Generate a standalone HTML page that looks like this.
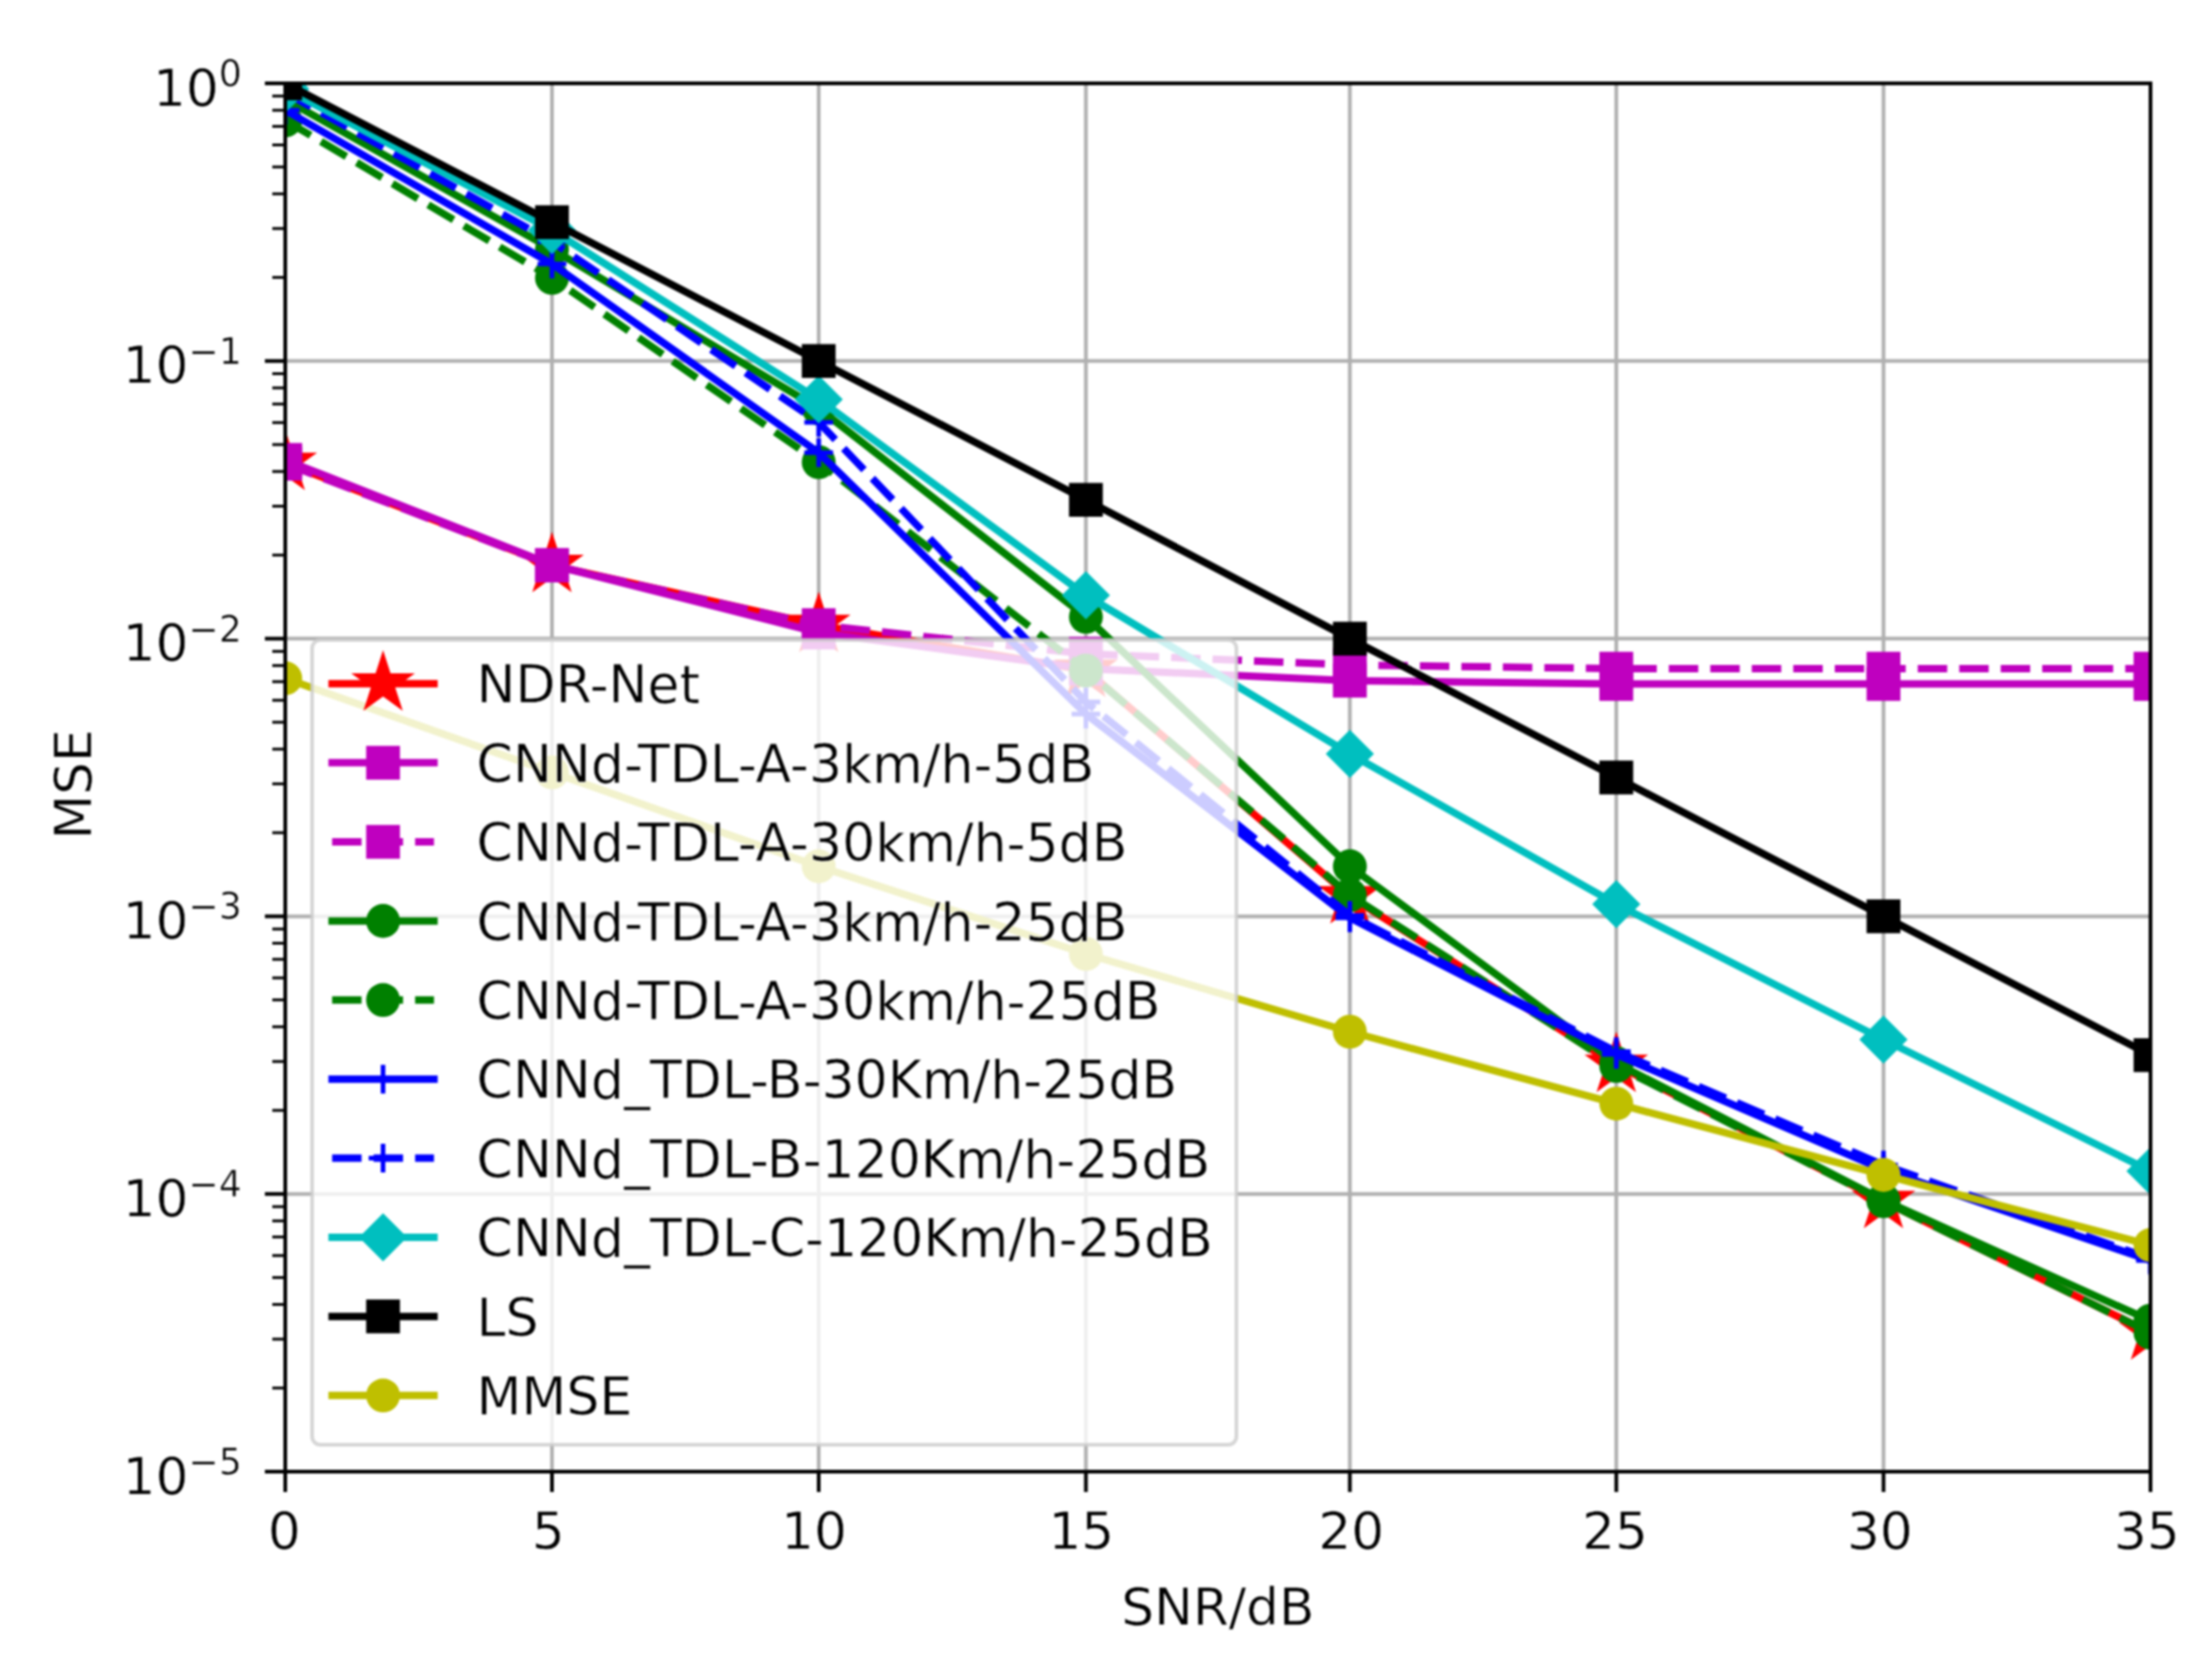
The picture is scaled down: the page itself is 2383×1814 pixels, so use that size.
<!DOCTYPE html>
<html lang="en"><head><meta charset="utf-8"><title>MSE vs SNR</title>
<style>html,body{margin:0;padding:0;background:#fff;}svg{display:block;filter:blur(1px);}text{font-family:"DejaVu Sans", "Liberation Sans", sans-serif;fill:#000;stroke:#fff;stroke-width:0.6px;paint-order:fill stroke;font-kerning:normal;}</style>
</head><body>
<svg width="2383" height="1814" viewBox="0 0 2383 1814">
<defs><clipPath id="ax"><rect x="308" y="90" width="2014" height="1499"/></clipPath></defs>
<rect width="2383" height="1814" fill="#ffffff"/>
<g stroke="#b0b0b0" stroke-width="4" fill="none">
<path d="M596 90V1589"/>
<path d="M884 90V1589"/>
<path d="M1172.5 90V1589"/>
<path d="M1457.5 90V1589"/>
<path d="M1745.2 90V1589"/>
<path d="M2033.7 90V1589"/>
<path d="M308 389.8H2322"/>
<path d="M308 689.6H2322"/>
<path d="M308 989.4H2322"/>
<path d="M308 1289.2H2322"/>
</g>
<g clip-path="url(#ax)">
<path d="M308 500L596 610.3L884 675L1172.5 723.5L1457.5 968L1745.2 1150L2033.7 1297L2322 1439" fill="none" stroke="#ff0000" stroke-width="8" stroke-linejoin="round" stroke-linecap="square"/>
<polygon points="308,468 315.18,490.11 338.43,490.11 319.62,503.78 326.81,525.89 308,512.22 289.19,525.89 296.38,503.78 277.57,490.11 300.82,490.11" fill="#ff0000" stroke="#ff0000" stroke-width="2.6" stroke-linejoin="miter"/>
<polygon points="596,578.3 603.18,600.41 626.43,600.41 607.62,614.08 614.81,636.19 596,622.52 577.19,636.19 584.38,614.08 565.57,600.41 588.82,600.41" fill="#ff0000" stroke="#ff0000" stroke-width="2.6" stroke-linejoin="miter"/>
<polygon points="884,643 891.18,665.11 914.43,665.11 895.62,678.78 902.81,700.89 884,687.22 865.19,700.89 872.38,678.78 853.57,665.11 876.82,665.11" fill="#ff0000" stroke="#ff0000" stroke-width="2.6" stroke-linejoin="miter"/>
<polygon points="1172.5,691.5 1179.68,713.61 1202.93,713.61 1184.12,727.28 1191.31,749.39 1172.5,735.72 1153.69,749.39 1160.88,727.28 1142.07,713.61 1165.32,713.61" fill="#ff0000" stroke="#ff0000" stroke-width="2.6" stroke-linejoin="miter"/>
<polygon points="1457.5,936 1464.68,958.11 1487.93,958.11 1469.12,971.78 1476.31,993.89 1457.5,980.22 1438.69,993.89 1445.88,971.78 1427.07,958.11 1450.32,958.11" fill="#ff0000" stroke="#ff0000" stroke-width="2.6" stroke-linejoin="miter"/>
<polygon points="1745.2,1118 1752.38,1140.11 1775.63,1140.11 1756.82,1153.78 1764.01,1175.89 1745.2,1162.22 1726.39,1175.89 1733.58,1153.78 1714.77,1140.11 1738.02,1140.11" fill="#ff0000" stroke="#ff0000" stroke-width="2.6" stroke-linejoin="miter"/>
<polygon points="2033.7,1265 2040.88,1287.11 2064.13,1287.11 2045.32,1300.78 2052.51,1322.89 2033.7,1309.22 2014.89,1322.89 2022.08,1300.78 2003.27,1287.11 2026.52,1287.11" fill="#ff0000" stroke="#ff0000" stroke-width="2.6" stroke-linejoin="miter"/>
<polygon points="2322,1407 2329.18,1429.11 2352.43,1429.11 2333.62,1442.78 2340.81,1464.89 2322,1451.22 2303.19,1464.89 2310.38,1442.78 2291.57,1429.11 2314.82,1429.11" fill="#ff0000" stroke="#ff0000" stroke-width="2.6" stroke-linejoin="miter"/>
<path d="M308 496.6L596 610L884 683L1172.5 722L1457.5 735L1745.2 738.5L2033.7 738.5L2322 738.5" fill="none" stroke="#bf00bf" stroke-width="8" stroke-linejoin="round" stroke-linecap="square"/>
<rect x="289.75" y="478.35" width="36.5" height="36.5" fill="#bf00bf"/>
<rect x="577.75" y="591.75" width="36.5" height="36.5" fill="#bf00bf"/>
<rect x="865.75" y="664.75" width="36.5" height="36.5" fill="#bf00bf"/>
<rect x="1154.25" y="703.75" width="36.5" height="36.5" fill="#bf00bf"/>
<rect x="1439.25" y="716.75" width="36.5" height="36.5" fill="#bf00bf"/>
<rect x="1726.95" y="720.25" width="36.5" height="36.5" fill="#bf00bf"/>
<rect x="2015.45" y="720.25" width="36.5" height="36.5" fill="#bf00bf"/>
<rect x="2303.75" y="720.25" width="36.5" height="36.5" fill="#bf00bf"/>
<path d="M308 500.7L596 610.6L884 675L1172.5 706L1457.5 718L1745.2 722L2033.7 722L2322 722" fill="none" stroke="#bf00bf" stroke-width="8" stroke-linejoin="round" stroke-dasharray="31.8 13" stroke-linecap="butt"/>
<rect x="289.75" y="482.45" width="36.5" height="36.5" fill="#bf00bf"/>
<rect x="577.75" y="592.35" width="36.5" height="36.5" fill="#bf00bf"/>
<rect x="865.75" y="656.75" width="36.5" height="36.5" fill="#bf00bf"/>
<rect x="1154.25" y="687.75" width="36.5" height="36.5" fill="#bf00bf"/>
<rect x="1439.25" y="699.75" width="36.5" height="36.5" fill="#bf00bf"/>
<rect x="1726.95" y="703.75" width="36.5" height="36.5" fill="#bf00bf"/>
<rect x="2015.45" y="703.75" width="36.5" height="36.5" fill="#bf00bf"/>
<rect x="2303.75" y="703.75" width="36.5" height="36.5" fill="#bf00bf"/>
<path d="M308 107.5L596 269L884 441L1172.5 666L1457.5 935.4L1745.2 1148L2033.7 1296L2322 1426" fill="none" stroke="#008000" stroke-width="8" stroke-linejoin="round" stroke-linecap="square"/>
<circle cx="308" cy="107.5" r="18.3" fill="#008000"/>
<circle cx="596" cy="269" r="18.3" fill="#008000"/>
<circle cx="884" cy="441" r="18.3" fill="#008000"/>
<circle cx="1172.5" cy="666" r="18.3" fill="#008000"/>
<circle cx="1457.5" cy="935.4" r="18.3" fill="#008000"/>
<circle cx="1745.2" cy="1148" r="18.3" fill="#008000"/>
<circle cx="2033.7" cy="1296" r="18.3" fill="#008000"/>
<circle cx="2322" cy="1426" r="18.3" fill="#008000"/>
<path d="M308 130L596 300L884 499L1172.5 724L1457.5 966.5L1745.2 1151L2033.7 1297L2322 1439" fill="none" stroke="#008000" stroke-width="8" stroke-linejoin="round" stroke-dasharray="31.8 13" stroke-linecap="butt"/>
<circle cx="308" cy="130" r="18.3" fill="#008000"/>
<circle cx="596" cy="300" r="18.3" fill="#008000"/>
<circle cx="884" cy="499" r="18.3" fill="#008000"/>
<circle cx="1172.5" cy="724" r="18.3" fill="#008000"/>
<circle cx="1457.5" cy="966.5" r="18.3" fill="#008000"/>
<circle cx="1745.2" cy="1151" r="18.3" fill="#008000"/>
<circle cx="2033.7" cy="1297" r="18.3" fill="#008000"/>
<circle cx="2322" cy="1439" r="18.3" fill="#008000"/>
<path d="M308 119L596 285L884 488.8L1172.5 771L1457.5 991L1745.2 1138.5L2033.7 1263L2322 1361" fill="none" stroke="#0000ff" stroke-width="8" stroke-linejoin="round" stroke-linecap="square"/>
<path d="M292.5 119H323.5M308 103.5V134.5" stroke="#0000ff" stroke-width="5" fill="none"/>
<path d="M580.5 285H611.5M596 269.5V300.5" stroke="#0000ff" stroke-width="5" fill="none"/>
<path d="M868.5 488.8H899.5M884 473.3V504.3" stroke="#0000ff" stroke-width="5" fill="none"/>
<path d="M1157 771H1188M1172.5 755.5V786.5" stroke="#0000ff" stroke-width="5" fill="none"/>
<path d="M1442 991H1473M1457.5 975.5V1006.5" stroke="#0000ff" stroke-width="5" fill="none"/>
<path d="M1729.7 1138.5H1760.7M1745.2 1123V1154" stroke="#0000ff" stroke-width="5" fill="none"/>
<path d="M2018.2 1263H2049.2M2033.7 1247.5V1278.5" stroke="#0000ff" stroke-width="5" fill="none"/>
<path d="M2306.5 1361H2337.5M2322 1345.5V1376.5" stroke="#0000ff" stroke-width="5" fill="none"/>
<path d="M308 100L596 261L884 456L1172.5 758L1457.5 988.5L1745.2 1135.5L2033.7 1258L2322 1359" fill="none" stroke="#0000ff" stroke-width="8" stroke-linejoin="round" stroke-dasharray="31.8 13" stroke-linecap="butt"/>
<path d="M292.5 100H323.5M308 84.5V115.5" stroke="#0000ff" stroke-width="5" fill="none"/>
<path d="M580.5 261H611.5M596 245.5V276.5" stroke="#0000ff" stroke-width="5" fill="none"/>
<path d="M868.5 456H899.5M884 440.5V471.5" stroke="#0000ff" stroke-width="5" fill="none"/>
<path d="M1157 758H1188M1172.5 742.5V773.5" stroke="#0000ff" stroke-width="5" fill="none"/>
<path d="M1442 988.5H1473M1457.5 973V1004" stroke="#0000ff" stroke-width="5" fill="none"/>
<path d="M1729.7 1135.5H1760.7M1745.2 1120V1151" stroke="#0000ff" stroke-width="5" fill="none"/>
<path d="M2018.2 1258H2049.2M2033.7 1242.5V1273.5" stroke="#0000ff" stroke-width="5" fill="none"/>
<path d="M2306.5 1359H2337.5M2322 1343.5V1374.5" stroke="#0000ff" stroke-width="5" fill="none"/>
<path d="M308 96L596 248.5L884 431.3L1172.5 642.7L1457.5 813.9L1745.2 976.3L2033.7 1122.5L2322 1264.4" fill="none" stroke="#00bfbf" stroke-width="8" stroke-linejoin="round" stroke-linecap="square"/>
<path d="M308 70L334 96L308 122L282 96Z" fill="#00bfbf"/>
<path d="M596 222.5L622 248.5L596 274.5L570 248.5Z" fill="#00bfbf"/>
<path d="M884 405.3L910 431.3L884 457.3L858 431.3Z" fill="#00bfbf"/>
<path d="M1172.5 616.7L1198.5 642.7L1172.5 668.7L1146.5 642.7Z" fill="#00bfbf"/>
<path d="M1457.5 787.9L1483.5 813.9L1457.5 839.9L1431.5 813.9Z" fill="#00bfbf"/>
<path d="M1745.2 950.3L1771.2 976.3L1745.2 1002.3L1719.2 976.3Z" fill="#00bfbf"/>
<path d="M2033.7 1096.5L2059.7 1122.5L2033.7 1148.5L2007.7 1122.5Z" fill="#00bfbf"/>
<path d="M2322 1238.4L2348 1264.4L2322 1290.4L2296 1264.4Z" fill="#00bfbf"/>
<path d="M308 90L596 239.9L884 389.8L1172.5 539.7L1457.5 689.6L1745.2 839.5L2033.7 989.4L2322 1139.3" fill="none" stroke="#000000" stroke-width="8" stroke-linejoin="round" stroke-linecap="square"/>
<rect x="289.75" y="71.75" width="36.5" height="36.5" fill="#000000"/>
<rect x="577.75" y="221.65" width="36.5" height="36.5" fill="#000000"/>
<rect x="865.75" y="371.55" width="36.5" height="36.5" fill="#000000"/>
<rect x="1154.25" y="521.45" width="36.5" height="36.5" fill="#000000"/>
<rect x="1439.25" y="671.35" width="36.5" height="36.5" fill="#000000"/>
<rect x="1726.95" y="821.25" width="36.5" height="36.5" fill="#000000"/>
<rect x="2015.45" y="971.15" width="36.5" height="36.5" fill="#000000"/>
<rect x="2303.75" y="1121.05" width="36.5" height="36.5" fill="#000000"/>
<path d="M308 732.4L596 834L884 935.4L1172.5 1030L1457.5 1114L1745.2 1191.7L2033.7 1268.6L2322 1344.4" fill="none" stroke="#bfbf00" stroke-width="8" stroke-linejoin="round" stroke-linecap="square"/>
<circle cx="308" cy="732.4" r="18.3" fill="#bfbf00"/>
<circle cx="596" cy="834" r="18.3" fill="#bfbf00"/>
<circle cx="884" cy="935.4" r="18.3" fill="#bfbf00"/>
<circle cx="1172.5" cy="1030" r="18.3" fill="#bfbf00"/>
<circle cx="1457.5" cy="1114" r="18.3" fill="#bfbf00"/>
<circle cx="1745.2" cy="1191.7" r="18.3" fill="#bfbf00"/>
<circle cx="2033.7" cy="1268.6" r="18.3" fill="#bfbf00"/>
<circle cx="2322" cy="1344.4" r="18.3" fill="#bfbf00"/>
</g>
<rect x="308" y="90" width="2014" height="1499" fill="none" stroke="#000" stroke-width="4"/>
<g stroke="#000" stroke-width="4" fill="none">
<path d="M308 1591V1611"/>
<path d="M596 1591V1611"/>
<path d="M884 1591V1611"/>
<path d="M1172.5 1591V1611"/>
<path d="M1457.5 1591V1611"/>
<path d="M1745.2 1591V1611"/>
<path d="M2033.7 1591V1611"/>
<path d="M2322 1591V1611"/>
<path d="M306 90H286"/>
<path d="M306 389.8H286"/>
<path d="M306 689.6H286"/>
<path d="M306 989.4H286"/>
<path d="M306 1289.2H286"/>
<path d="M306 1589H286"/>
</g>
<g stroke="#000" stroke-width="3" fill="none">
<path d="M306 299.55H294"/>
<path d="M306 246.76H294"/>
<path d="M306 209.3H294"/>
<path d="M306 180.25H294"/>
<path d="M306 156.51H294"/>
<path d="M306 136.44H294"/>
<path d="M306 119.05H294"/>
<path d="M306 103.72H294"/>
<path d="M306 599.35H294"/>
<path d="M306 546.56H294"/>
<path d="M306 509.1H294"/>
<path d="M306 480.05H294"/>
<path d="M306 456.31H294"/>
<path d="M306 436.24H294"/>
<path d="M306 418.85H294"/>
<path d="M306 403.52H294"/>
<path d="M306 899.15H294"/>
<path d="M306 846.36H294"/>
<path d="M306 808.9H294"/>
<path d="M306 779.85H294"/>
<path d="M306 756.11H294"/>
<path d="M306 736.04H294"/>
<path d="M306 718.65H294"/>
<path d="M306 703.32H294"/>
<path d="M306 1198.95H294"/>
<path d="M306 1146.16H294"/>
<path d="M306 1108.7H294"/>
<path d="M306 1079.65H294"/>
<path d="M306 1055.91H294"/>
<path d="M306 1035.84H294"/>
<path d="M306 1018.45H294"/>
<path d="M306 1003.12H294"/>
<path d="M306 1498.75H294"/>
<path d="M306 1445.96H294"/>
<path d="M306 1408.5H294"/>
<path d="M306 1379.45H294"/>
<path d="M306 1355.71H294"/>
<path d="M306 1335.64H294"/>
<path d="M306 1318.25H294"/>
<path d="M306 1302.92H294"/>
</g>
<g font-size="55.8" text-anchor="middle">
<text x="307" y="1671.5">0</text>
<text x="592" y="1671.5">5</text>
<text x="879" y="1671.5">10</text>
<text x="1167.5" y="1671.5">15</text>
<text x="1459" y="1671.5">20</text>
<text x="1743.7" y="1671.5">25</text>
<text x="2029.7" y="1671.5">30</text>
<text x="2318" y="1671.5">35</text>
<text x="1315" y="1754">SNR/dB</text>
<text transform="translate(97.5 847) rotate(-90)">MSE</text>
</g>
<g font-size="55.8" text-anchor="end">
<text x="261" y="113.5">10<tspan font-size="39.06" dy="-20.5">0</tspan></text>
<text x="261" y="413.3">10<tspan font-size="39.06" dy="-20.5">−1</tspan></text>
<text x="261" y="713.1">10<tspan font-size="39.06" dy="-20.5">−2</tspan></text>
<text x="261" y="1012.9">10<tspan font-size="39.06" dy="-20.5">−3</tspan></text>
<text x="261" y="1312.7">10<tspan font-size="39.06" dy="-20.5">−4</tspan></text>
<text x="261" y="1612.5">10<tspan font-size="39.06" dy="-20.5">−5</tspan></text>
</g>
<rect x="337" y="691" width="998" height="869" rx="9" ry="9" fill="#ffffff" fill-opacity="0.8" stroke="#cccccc" stroke-opacity="0.8" stroke-width="4"/>
<g font-size="56.25">
<path d="M358.6 738.2L468.6 738.2" fill="none" stroke="#ff0000" stroke-width="8" stroke-linejoin="round" stroke-linecap="square"/>
<polygon points="413.6,706.2 420.78,728.31 444.03,728.31 425.22,741.98 432.41,764.09 413.6,750.42 394.79,764.09 401.98,741.98 383.17,728.31 406.42,728.31" fill="#ff0000" stroke="#ff0000" stroke-width="2.6" stroke-linejoin="miter"/>
<text x="514.5" y="759.4">NDR-Net</text>
<path d="M358.6 823.6L468.6 823.6" fill="none" stroke="#bf00bf" stroke-width="8" stroke-linejoin="round" stroke-linecap="square"/>
<rect x="395.35" y="805.35" width="36.5" height="36.5" fill="#bf00bf"/>
<text x="514.5" y="844.8">CNNd-TDL-A-3km/h-5dB</text>
<path d="M358.6 909L468.6 909" fill="none" stroke="#bf00bf" stroke-width="8" stroke-linejoin="round" stroke-dasharray="31.8 13" stroke-linecap="butt"/>
<rect x="395.35" y="890.75" width="36.5" height="36.5" fill="#bf00bf"/>
<text x="514.5" y="930.2">CNNd-TDL-A-30km/h-5dB</text>
<path d="M358.6 994.4L468.6 994.4" fill="none" stroke="#008000" stroke-width="8" stroke-linejoin="round" stroke-linecap="square"/>
<circle cx="413.6" cy="994.4" r="18.3" fill="#008000"/>
<text x="514.5" y="1015.6">CNNd-TDL-A-3km/h-25dB</text>
<path d="M358.6 1079.8L468.6 1079.8" fill="none" stroke="#008000" stroke-width="8" stroke-linejoin="round" stroke-dasharray="31.8 13" stroke-linecap="butt"/>
<circle cx="413.6" cy="1079.8" r="18.3" fill="#008000"/>
<text x="514.5" y="1101">CNNd-TDL-A-30km/h-25dB</text>
<path d="M358.6 1165.2L468.6 1165.2" fill="none" stroke="#0000ff" stroke-width="8" stroke-linejoin="round" stroke-linecap="square"/>
<path d="M398.1 1165.2H429.1M413.6 1149.7V1180.7" stroke="#0000ff" stroke-width="5" fill="none"/>
<text x="514.5" y="1186.4">CNNd_TDL-B-30Km/h-25dB</text>
<path d="M358.6 1250.6L468.6 1250.6" fill="none" stroke="#0000ff" stroke-width="8" stroke-linejoin="round" stroke-dasharray="31.8 13" stroke-linecap="butt"/>
<path d="M398.1 1250.6H429.1M413.6 1235.1V1266.1" stroke="#0000ff" stroke-width="5" fill="none"/>
<text x="514.5" y="1271.8">CNNd_TDL-B-120Km/h-25dB</text>
<path d="M358.6 1336L468.6 1336" fill="none" stroke="#00bfbf" stroke-width="8" stroke-linejoin="round" stroke-linecap="square"/>
<path d="M413.6 1310L439.6 1336L413.6 1362L387.6 1336Z" fill="#00bfbf"/>
<text x="514.5" y="1357.2">CNNd_TDL-C-120Km/h-25dB</text>
<path d="M358.6 1421.4L468.6 1421.4" fill="none" stroke="#000000" stroke-width="8" stroke-linejoin="round" stroke-linecap="square"/>
<rect x="395.35" y="1403.15" width="36.5" height="36.5" fill="#000000"/>
<text x="514.5" y="1442.6">LS</text>
<path d="M358.6 1506.8L468.6 1506.8" fill="none" stroke="#bfbf00" stroke-width="8" stroke-linejoin="round" stroke-linecap="square"/>
<circle cx="413.6" cy="1506.8" r="18.3" fill="#bfbf00"/>
<text x="514.5" y="1528">MMSE</text>
</g>
</svg>
</body></html>
